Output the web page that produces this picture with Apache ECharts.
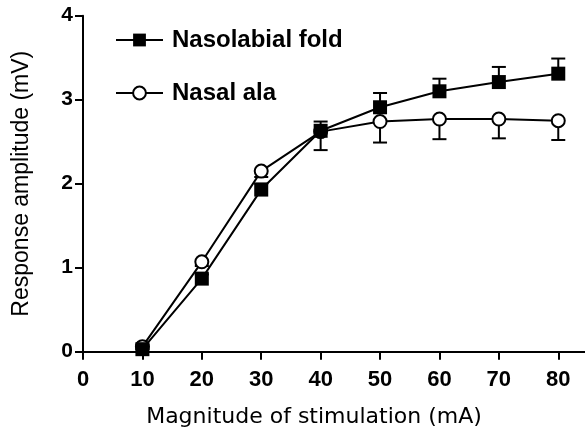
<!DOCTYPE html>
<html>
<head>
<meta charset="utf-8">
<script src="https://cdn.jsdelivr.net/npm/echarts@6/dist/echarts.min.js"></script>
<style>
html,body{margin:0;padding:0;background:#fff;}
#chart{width:585px;height:438px;}
</style>
</head>
<body>
<div id="chart"></div>
<script>
// ---- data ----
var stimulation = [10, 20, 30, 40, 50, 60, 70, 80];
var nasolabialFold = [0.03, 0.87, 1.93, 2.63, 2.91, 3.10, 3.21, 3.31];
var nasolabialErrUp = [0.03, 0.05, 0.07, 0.11, 0.17, 0.15, 0.18, 0.18];
var nasalAla = [0.06, 1.07, 2.15, 2.62, 2.74, 2.77, 2.77, 2.75];
var nasalAlaErrDown = [0.03, 0.05, 0.07, 0.22, 0.25, 0.24, 0.23, 0.23];
var xTicks = [0, 10, 20, 30, 40, 50, 60, 70, 80];
var yTicks = [0, 1, 2, 3, 4];
var seriesNames = ['Nasolabial fold', 'Nasal ala'];
var xTitle = 'Magnitude of stimulation (mA)';
var yTitle = 'Response amplitude (mV)';

function pairs(xs, ys) { return xs.map(function (x, i) { return [x, ys[i]]; }); }
function errData(xs, ys, errs, dir) {
  return xs.map(function (x, i) { return [x, ys[i], ys[i] + dir * errs[i]]; });
}
function errRender(params, api) {
  var x = api.value(0), y = api.value(1), e = api.value(2);
  var p0 = api.coord([x, y]);
  var p1 = api.coord([x, e]);
  var hw = 7;
  return {
    type: 'group',
    children: [
      { type: 'line', shape: { x1: p0[0], y1: p0[1], x2: p1[0], y2: p1[1] }, style: { stroke: '#000', lineWidth: 2 } },
      { type: 'line', shape: { x1: p1[0] - hw, y1: p1[1], x2: p1[0] + hw, y2: p1[1] }, style: { stroke: '#000', lineWidth: 2 } }
    ]
  };
}

var chart = echarts.init(document.getElementById('chart'), null, { renderer: 'canvas' });
var font = '"Liberation Sans", Arial, Helvetica, sans-serif';
chart.setOption({
  animation: false,
  backgroundColor: '#fff',
  textStyle: { fontFamily: font },
  grid: { left: 83, top: 15.7, width: 502.8, height: 336, containLabel: false },
  legend: {
    data: seriesNames,
    orient: 'vertical',
    left: 115,
    top: 28,
    padding: 0,
    itemWidth: 47,
    itemHeight: 16,
    itemGap: 29,
    textStyle: { fontFamily: font, fontSize: 24, fontWeight: 'bold', color: '#000', lineHeight: 24, padding: [0, 0, 0, 4] }
  },
  xAxis: {
    type: 'value',
    min: 0,
    max: 84.5,
    interval: 10,
    name: xTitle,
    nameLocation: 'middle',
    nameGap: 55,
    nameTextStyle: { fontFamily: '"DejaVu Sans", sans-serif', fontSize: 22, color: '#000', padding: [0, 40, 0, 0] },
    axisLine: { show: true, onZero: false, lineStyle: { color: '#000', width: 2 } },
    axisTick: { show: true, length: 8, lineStyle: { color: '#000', width: 2 }, customValues: xTicks },
    axisLabel: { fontFamily: font, fontSize: 22, fontWeight: 'bold', color: '#000', margin: 17, customValues: xTicks },
    splitLine: { show: false }
  },
  yAxis: {
    type: 'value',
    min: 0,
    max: 4,
    interval: 1,
    name: yTitle,
    nameLocation: 'middle',
    nameGap: 40,
    nameTextStyle: { fontFamily: font, fontSize: 23, color: '#000', padding: [0, 0, 10, 0] },
    axisLine: { show: true, onZero: false, lineStyle: { color: '#000', width: 2 } },
    axisTick: { show: true, length: 8, lineStyle: { color: '#000', width: 2 }, customValues: yTicks },
    axisLabel: { fontFamily: font, fontSize: 21, fontWeight: 'bold', color: '#000', margin: 10, customValues: yTicks },
    splitLine: { show: false }
  },
  series: [
    {
      type: 'custom', name: 'errNasolabial', renderItem: errRender,
      data: errData(stimulation, nasolabialFold, nasolabialErrUp, 1), z: 1, silent: true
    },
    {
      type: 'custom', name: 'errNasalAla', renderItem: errRender,
      data: errData(stimulation, nasalAla, nasalAlaErrDown, -1), z: 1, silent: true
    },
    {
      name: seriesNames[1], type: 'line', data: pairs(stimulation, nasalAla), z: 3,
      symbol: 'circle', symbolSize: 13, showAllSymbol: true,
      lineStyle: { color: '#000', width: 2 },
      itemStyle: { color: '#fff', borderColor: '#000', borderWidth: 2 }
    },
    {
      name: seriesNames[0], type: 'line', data: pairs(stimulation, nasolabialFold), z: 4,
      symbol: 'rect', symbolSize: 14, showAllSymbol: true,
      lineStyle: { color: '#000', width: 2 },
      itemStyle: { color: '#000', borderColor: '#000', borderWidth: 0 }
    }
  ]
});
</script>
</body>
</html>
